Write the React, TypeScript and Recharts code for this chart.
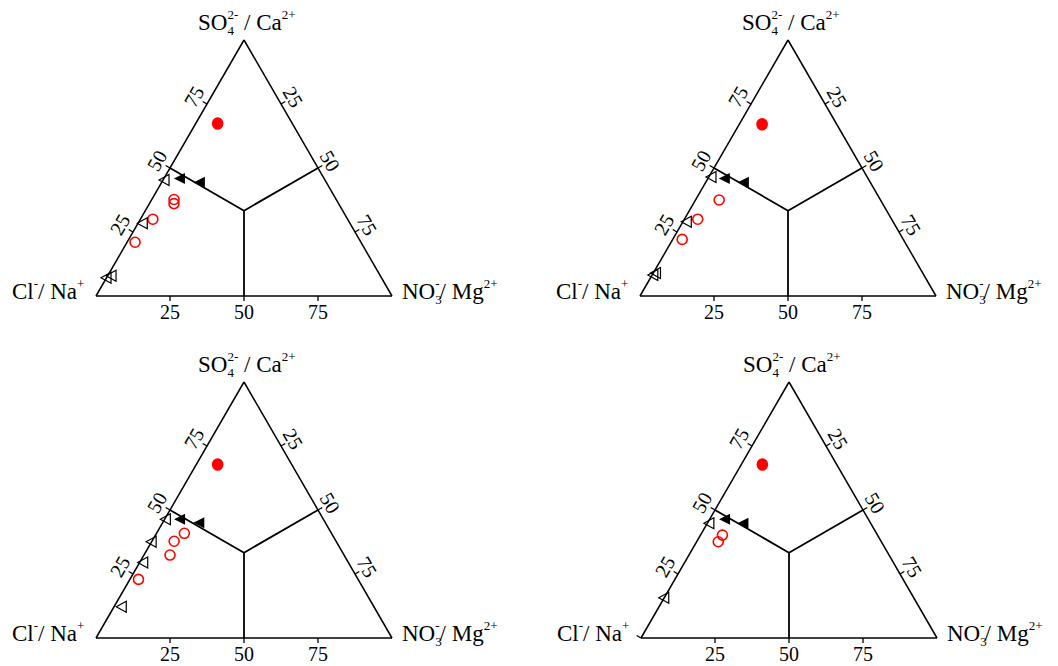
import React from "react";
import {
  ScatterChart,
  Scatter,
  XAxis,
  YAxis,
  ReferenceLine,
  ReferenceDot,
} from "recharts";

// ---------- data (ternary percentages: SO4 = top, NO3 = right, Cl = rest) ----------
type P = { so4: number; no3: number };

const tickValues = [25, 50, 75];

// Panel A (top-left)
const aRedFilled: P[] = [{ so4: 67.4, no3: 7.4 }];
const aBlackFilled: P[] = [
  { so4: 45.9, no3: 5.4 },
  { so4: 44.4, no3: 12.9 },
];
const aBlackOpen: P[] = [
  { so4: 45.3, no3: 0.5 },
  { so4: 28.4, no3: 1.6 },
  { so4: 7.1, no3: 0 },
  { so4: 7.9, no3: 1.3 },
];
const aRedOpen: P[] = [
  { so4: 37.7, no3: 7.5 },
  { so4: 36.1, no3: 8.3 },
  { so4: 30.0, no3: 4.2 },
  { so4: 21.0, no3: 2.7 },
];

// Panel B (top-right)
const bRedFilled: P[] = [{ so4: 67.1, no3: 7.7 }];
const bBlackFilled: P[] = [
  { so4: 45.9, no3: 5.7 },
  { so4: 44.4, no3: 12.9 },
];
const bBlackOpen: P[] = [
  { so4: 46.5, no3: 0.9 },
  { so4: 29.0, no3: 1.3 },
  { so4: 8.2, no3: 0.4 },
  { so4: 9.0, no3: 0.9 },
];
const bRedOpen: P[] = [
  { so4: 37.5, no3: 8.0 },
  { so4: 30.0, no3: 4.5 },
  { so4: 22.1, no3: 3.2 },
];

// Panel C (bottom-left)
const cRedFilled: P[] = [{ so4: 67.8, no3: 7.2 }];
const cBlackFilled: P[] = [
  { so4: 46.4, no3: 5.2 },
  { so4: 45.0, no3: 12.4 },
];
const cBlackOpen: P[] = [
  { so4: 46.4, no3: 0.4 },
  { so4: 37.6, no3: 0 },
  { so4: 29.5, no3: 1.2 },
  { so4: 12.2, no3: 2.6 },
];
const cRedOpen: P[] = [
  { so4: 40.9, no3: 9.4 },
  { so4: 37.8, no3: 7.5 },
  { so4: 32.4, no3: 8.8 },
  { so4: 22.9, no3: 2.9 },
];

// Panel D (bottom-right)
const dRedFilled: P[] = [{ so4: 67.8, no3: 7.1 }];
const dBlackFilled: P[] = [
  { so4: 46.4, no3: 5.2 },
  { so4: 44.8, no3: 12.2 },
];
const dBlackOpen: P[] = [
  { so4: 44.8, no3: 0.7 },
  { so4: 15.7, no3: 0 },
];
const dRedOpen: P[] = [
  { so4: 40.2, no3: 7.4 },
  { so4: 37.6, no3: 7.3 },
];

// ---------- helpers ----------
const H = Math.sqrt(3) / 2;
const FONT = "Liberation Serif, DejaVu Serif, serif";
const TXT = { fontFamily: FONT };
const RED = "#ff0000";
const MAIN = 23;
const SMALL = 13;
const TICKF = 20;

const toXY = (p: P) => ({
  x: p.no3 + p.so4 / 2,
  y: p.so4 * H,
  cl: 100 - p.so4 - p.no3,
});

const RedDot = (props: any) => (
  <ellipse cx={props.cx} cy={props.cy} rx={5.8} ry={6.3} fill={RED} />
);
const RedRing = (props: any) => (
  <circle cx={props.cx} cy={props.cy} r={5} fill="none" stroke={RED} strokeWidth={1.6} />
);
const TriFilled = (props: any) => {
  const { cx, cy } = props;
  return (
    <polygon
      points={`${cx - 6},${cy} ${cx + 5},${cy - 5.5} ${cx + 5},${cy + 5.5}`}
      fill="#000"
    />
  );
};
const TriOpen = (props: any) => {
  const { cx, cy } = props;
  return (
    <polygon
      points={`${cx - 5.5},${cy} ${cx + 4.5},${cy - 5.5} ${cx + 4.5},${cy + 5.5}`}
      fill="none"
      stroke="#000"
      strokeWidth={1.2}
    />
  );
};

const tickShape = (side: "left" | "right" | "bottom", label: string | null) => (props: any) => {
  const { cx, cy } = props;
  if (side === "bottom") {
    return (
      <g>
        <line x1={cx} y1={cy} x2={cx} y2={cy + 5} stroke="#000" strokeWidth={1.3} />
        {label && (
          <text x={cx} y={cy + 23} textAnchor="middle" style={TXT} fontSize={TICKF} fill="#000">
            {label}
          </text>
        )}
      </g>
    );
  }
  const sx = side === "left" ? -1 : 1;
  const nx = 0.866 * sx;
  const ny = -0.5;
  const d = side === "left" ? 15 : 14;
  const tx = cx + nx * d;
  const ty = cy + ny * d;
  const rot = side === "left" ? -60 : 60;
  return (
    <g>
      <line x1={cx} y1={cy} x2={cx + nx * 5} y2={cy + ny * 5} stroke="#000" strokeWidth={1.3} />
      {label && (
        <text
          x={tx}
          y={ty}
          textAnchor="middle"
          dominantBaseline="central"
          transform={`rotate(${rot}, ${tx}, ${ty})`}
          style={TXT}
          fontSize={TICKF}
          fill="#000"
        >
          {label}
        </text>
      )}
    </g>
  );
};

const TopLabel = (props: any) => {
  const { cx, cy } = props;
  return (
    <text x={cx - 46} y={cy - 10} style={TXT} fontSize={MAIN} fill="#000">
      <tspan>SO</tspan>
      <tspan fontSize={SMALL} dy={5}>4</tspan>
      <tspan fontSize={SMALL} dx={-6.5} dy={-16}>2-</tspan>
      <tspan dy={11}> / Ca</tspan>
      <tspan fontSize={SMALL} dy={-11}>2+</tspan>
    </text>
  );
};
const LeftLabel = (props: any) => {
  const { cx, cy } = props;
  return (
    <text x={cx - 84} y={cy + 3} style={TXT} fontSize={MAIN} fill="#000">
      <tspan>Cl</tspan>
      <tspan fontSize={SMALL} dy={-11}>-</tspan>
      <tspan dy={11}>/ Na</tspan>
      <tspan fontSize={SMALL} dy={-11}>+</tspan>
    </text>
  );
};
const RightLabel = (props: any) => {
  const { cx, cy } = props;
  return (
    <text x={cx + 10} y={cy + 3} style={TXT} fontSize={MAIN} fill="#000">
      <tspan>NO</tspan>
      <tspan fontSize={SMALL} dy={5}>3</tspan>
      <tspan fontSize={SMALL} dx={-6.5} dy={-16}>-</tspan>
      <tspan dy={11}>/ Mg</tspan>
      <tspan fontSize={SMALL} dy={-11}>2+</tspan>
    </text>
  );
};

type PanelProps = {
  redFilled: P[];
  blackFilled: P[];
  blackOpen: P[];
  redOpen: P[];
  zeroTick?: boolean;
};

const TOP = 100 * H;
const CEN = { x: 50, y: TOP / 3 };
const LINE = { stroke: "#000", strokeWidth: 1.5, ifOverflow: "visible" as const };

const Panel = ({ redFilled, blackFilled, blackOpen, redOpen, zeroTick }: PanelProps) => (
  <ScatterChart width={529} height={333} margin={{ top: 40, right: 137, bottom: 37, left: 96 }}>
    <XAxis type="number" dataKey="x" domain={[0, 100]} hide allowDataOverflow height={0} />
    <YAxis type="number" dataKey="y" domain={[0, TOP]} hide allowDataOverflow width={0} />
    <ReferenceLine segment={[{ x: 0, y: 0 }, { x: 100, y: 0 }]} {...LINE} />
    <ReferenceLine segment={[{ x: 0, y: 0 }, { x: 50, y: TOP }]} {...LINE} />
    <ReferenceLine segment={[{ x: 100, y: 0 }, { x: 50, y: TOP }]} {...LINE} />
    <ReferenceLine segment={[CEN, { x: 50, y: 0 }]} {...LINE} strokeWidth={1.8} />
    <ReferenceLine segment={[CEN, { x: 25, y: TOP / 2 }]} {...LINE} strokeWidth={1.8} />
    <ReferenceLine segment={[CEN, { x: 75, y: TOP / 2 }]} {...LINE} strokeWidth={1.8} />
    {tickValues.map((v) => (
      <ReferenceDot key={`b${v}`} x={v} y={0} r={0} ifOverflow="visible" shape={tickShape("bottom", String(v))} />
    ))}
    {tickValues.map((v) => (
      <ReferenceDot key={`l${v}`} x={v / 2} y={v * H} r={0} ifOverflow="visible" shape={tickShape("left", String(v))} />
    ))}
    {tickValues.map((v) => (
      <ReferenceDot key={`r${v}`} x={50 + v / 2} y={TOP - v * H} r={0} ifOverflow="visible" shape={tickShape("right", String(v))} />
    ))}
    {zeroTick && (
      <ReferenceDot x={0} y={0} r={0} ifOverflow="visible" shape={tickShape("left", null)} />
    )}
    <ReferenceDot x={50} y={TOP} r={0} ifOverflow="visible" shape={TopLabel} />
    <ReferenceDot x={0} y={0} r={0} ifOverflow="visible" shape={LeftLabel} />
    <ReferenceDot x={100} y={0} r={0} ifOverflow="visible" shape={RightLabel} />
    <Scatter data={redOpen.map(toXY)} shape={RedRing} isAnimationActive={false} />
    <Scatter data={blackOpen.map(toXY)} shape={TriOpen} isAnimationActive={false} />
    <Scatter data={blackFilled.map(toXY)} shape={TriFilled} isAnimationActive={false} />
    <Scatter data={redFilled.map(toXY)} shape={RedDot} isAnimationActive={false} />
  </ScatterChart>
);

export default function App() {
  return (
    <div style={{ position: "absolute", left: 0, top: 0, width: 1058, height: 666, background: "#fff" }}>
      <div style={{ position: "absolute", left: 0, top: 0 }}>
        <Panel redFilled={aRedFilled} blackFilled={aBlackFilled} blackOpen={aBlackOpen} redOpen={aRedOpen} />
      </div>
      <div style={{ position: "absolute", left: 544, top: 0 }}>
        <Panel redFilled={bRedFilled} blackFilled={bBlackFilled} blackOpen={bBlackOpen} redOpen={bRedOpen} />
      </div>
      <div style={{ position: "absolute", left: 0, top: 342 }}>
        <Panel redFilled={cRedFilled} blackFilled={cBlackFilled} blackOpen={cBlackOpen} redOpen={cRedOpen} />
      </div>
      <div style={{ position: "absolute", left: 545, top: 342 }}>
        <Panel redFilled={dRedFilled} blackFilled={dBlackFilled} blackOpen={dBlackOpen} redOpen={dRedOpen} zeroTick />
      </div>
    </div>
  );
}
